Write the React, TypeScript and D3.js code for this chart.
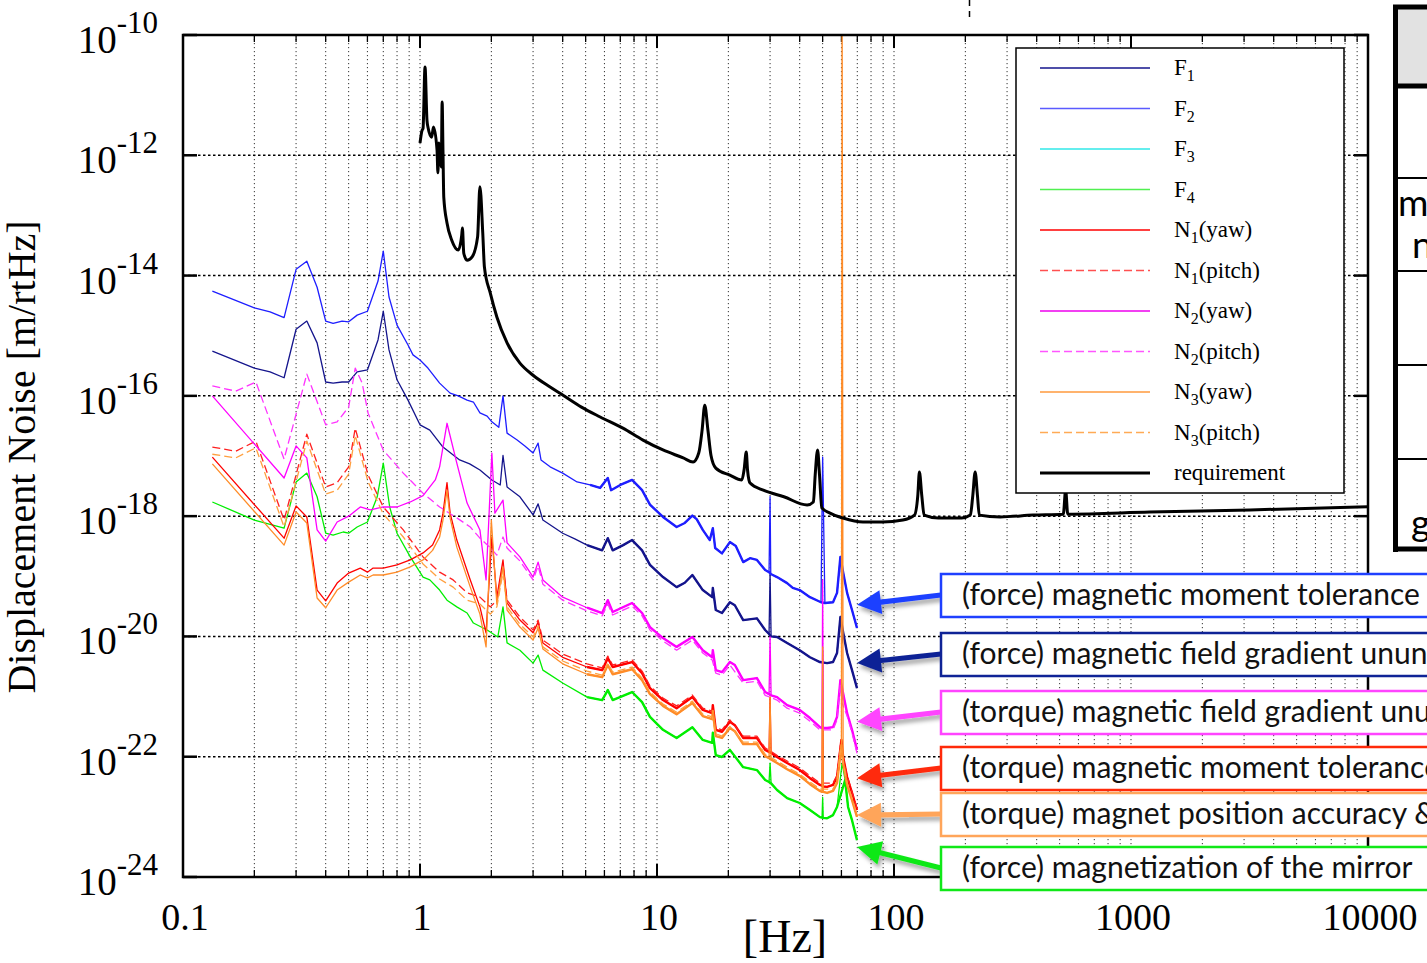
import React from "react";
import * as d3 from "d3";

type Pt = [number, number];

// frequency [Hz], displacement noise [m/rtHz]
const F1: Pt[] = [
  [0.133, 5.55e-16], [0.2, 2.9e-16], [0.233, 2.5e-16], [0.267, 2.0e-16], [0.3, 1.28e-15], [0.333, 1.75e-15],
  [0.368, 7.6e-16], [0.4, 1.7e-16], [0.43, 1.63e-16], [0.469, 1.7e-16], [0.5, 1.7e-16], [0.543, 2.5e-16],
  [0.6, 2.7e-16], [0.665, 8.5e-16], [0.7, 2.55e-15], [0.74, 5.8e-16], [0.8, 1.85e-16], [0.89, 8.5e-17],
  [1.0, 3.3e-17], [1.1, 2.7e-17], [1.25, 1.41e-17], [1.47, 8.6e-18], [1.62, 7.4e-18], [1.79, 5.85e-18],
  [2.01, 4.0e-18], [2.18, 3.3e-18], [2.24, 1.02e-17], [2.33, 3.05e-18], [2.64, 2.1e-18], [3.0, 1.05e-18],
  [3.15, 1.6e-18], [3.3, 8.6e-19], [4.0, 5.2e-19], [4.5, 4.2e-19], [5.07, 3.3e-19], [5.87, 2.7e-19],
  [6.2, 4.3e-19], [6.5, 2.7e-19], [7.2, 3.3e-19], [7.85, 4.0e-19], [8.65, 2.7e-19], [9.34, 1.55e-19],
  [10.6, 9.7e-20], [12.1, 6.6e-20], [13.1, 7.8e-20], [14.1, 1.05e-19], [15.6, 5.9e-20], [17.1, 4.5e-20],
  [17.2, 6.4e-20], [17.7, 2.75e-20], [18.8, 2.45e-20], [20.3, 3.7e-20], [21.3, 3.3e-20], [23.1, 1.87e-20],
  [26.4, 2.0e-20], [28.6, 1.28e-20], [29.7, 1.1e-20], [30.0, 1.13e-19], [30.3, 1.0e-20], [32.1, 9.8e-21],
  [35.4, 7.8e-21], [40.0, 5.9e-21], [44.2, 4.5e-21], [48.7, 3.75e-21], [52.2, 3.6e-21], [55.3, 3.75e-21],
  [57.5, 5.3e-21], [59.4, 2.1e-20], [60.4, 7.8e-21], [61.0, 1.18e-20], [63.4, 5.3e-21], [66.5, 2.75e-21],
  [69.8, 1.38e-21],
];

const F2: Pt[] = [
  [0.133, 5.5e-15], [0.2, 2.9e-15], [0.233, 2.5e-15], [0.267, 2.0e-15], [0.3, 1.27e-14], [0.333, 1.73e-14],
  [0.368, 6.4e-15], [0.4, 1.75e-15], [0.43, 1.6e-15], [0.469, 1.75e-15], [0.5, 1.7e-15], [0.543, 2.2e-15],
  [0.6, 2.55e-15], [0.665, 8.1e-15], [0.7, 2.55e-14], [0.74, 4.4e-15], [0.8, 1.5e-15], [0.89, 7.0e-16],
  [0.934, 4.8e-16], [1.0, 3.95e-16], [1.08, 2.9e-16], [1.21, 1.63e-16], [1.34, 1.11e-16], [1.45, 1.0e-16],
  [1.58, 8.5e-17], [1.68, 7.9e-17], [1.79, 5.2e-17], [1.92, 4.6e-17], [2.01, 3.7e-17], [2.15, 3.0e-17],
  [2.24, 1.0e-16], [2.33, 2.4e-17], [2.57, 1.85e-17], [2.77, 1.47e-17], [3.0, 1.12e-17], [3.15, 1.64e-17],
  [3.24, 8.6e-18], [3.54, 6.6e-18], [4.0, 5.2e-18], [4.6, 3.7e-18], [5.22, 3.3e-18], [5.75, 2.94e-18],
  [6.2, 4.3e-18], [6.4, 2.7e-18], [7.0, 3.3e-18], [7.85, 4.0e-18], [8.65, 2.7e-18], [9.34, 1.55e-18],
  [10.6, 9.7e-19], [12.1, 6.6e-19], [13.1, 7.7e-19], [14.1, 1.02e-18], [14.7, 8.9e-19], [15.6, 5.9e-19],
  [16.7, 4.0e-19], [17.2, 6.3e-19], [17.6, 2.95e-19], [18.8, 2.4e-19], [20.3, 3.7e-19], [21.5, 3.2e-19],
  [23.1, 1.72e-19], [24.7, 2.0e-19], [26.4, 1.87e-19], [28.6, 1.27e-19], [29.7, 1.17e-19], [30.0, 2.1e-18],
  [30.2, 1.09e-19], [32.1, 9.7e-20], [35.4, 7.7e-20], [37.4, 6.4e-20], [40.0, 5.9e-20], [44.2, 4.5e-20],
  [49.2, 3.7e-20], [50.0, 9.6e-18], [51.1, 3.6e-20], [55.3, 3.7e-20], [57.5, 5.3e-20], [59.4, 2.1e-19],
  [60.4, 7.7e-20], [61.0, 1.17e-19], [63.4, 5.3e-20], [66.5, 2.75e-20], [69.8, 1.38e-20],
];

const F4: Pt[] = [
  [0.133, 1.72e-18], [0.2, 8.6e-19], [0.267, 6.3e-19], [0.3, 3.7e-18], [0.333, 5.2e-18], [0.368, 2.1e-18],
  [0.4, 5.2e-19], [0.43, 4.85e-19], [0.474, 5.45e-19], [0.5, 5.2e-19], [0.543, 6.6e-19], [0.6, 8.0e-19],
  [0.66, 2.1e-18], [0.7, 7.6e-18], [0.745, 1.42e-18], [0.8, 5.2e-19], [0.91, 2.1e-19], [1.03, 9.7e-20],
  [1.1, 8.7e-20], [1.21, 5.9e-20], [1.3, 4.0e-20], [1.43, 3.1e-20], [1.58, 2.45e-20], [1.68, 1.67e-20],
  [1.92, 1.28e-20], [2.13, 9.8e-21], [2.24, 3.1e-20], [2.33, 7.8e-21], [2.64, 5.9e-21], [3.0, 3.6e-21],
  [3.15, 4.9e-21], [3.3, 2.75e-21], [4.0, 1.68e-21], [5.07, 9.8e-22], [5.87, 8.75e-22], [6.2, 1.28e-21],
  [6.5, 8.75e-22], [7.85, 1.19e-21], [8.65, 8.1e-22], [9.34, 4.6e-22], [10.6, 2.8e-22], [12.1, 2.05e-22],
  [14.1, 3.1e-22], [15.6, 1.9e-22], [17.1, 1.7e-22], [17.2, 2.5e-22], [17.7, 1.06e-22], [18.8, 9.9e-23],
  [20.3, 1.3e-22], [23.1, 6.7e-23], [26.4, 6.0e-23], [28.6, 4.1e-23], [29.7, 3.8e-23], [30.0, 7.85e-23],
  [30.3, 3.6e-23], [32.1, 2.8e-23], [35.4, 2.05e-23], [40.0, 1.7e-23], [44.2, 1.3e-23], [48.7, 9.9e-24],
  [49.7, 9.7e-24], [50.0, 2.1e-23], [50.3, 9.6e-24], [52.2, 9.5e-24], [55.3, 1.07e-23], [57.5, 1.46e-23],
  [60.4, 7.85e-23], [62.2, 4.1e-23], [64.0, 1.46e-23], [66.5, 8.8e-24], [69.8, 4.1e-24],
];

const N1yaw: Pt[] = [
  [0.133, 9.6e-18], [0.267, 4.3e-19], [0.3, 1.48e-18], [0.333, 9.7e-19], [0.368, 5.9e-20], [0.4, 3.9e-20],
  [0.447, 7.7e-20], [0.5, 1.13e-19], [0.56, 1.37e-19], [0.6, 1.17e-19], [0.634, 1.37e-19], [0.7, 1.37e-19],
  [0.8, 1.55e-19], [0.91, 1.87e-19], [1.03, 2.45e-19], [1.13, 3.3e-19], [1.21, 5.9e-19], [1.25, 1.12e-18],
  [1.3, 3.6e-18], [1.34, 1.12e-18], [1.43, 4.0e-19], [1.63, 8.7e-20], [1.79, 3.1e-20], [1.9, 1.15e-20],
  [2.01, 4.5e-19], [2.11, 4.5e-20], [2.24, 1.87e-19], [2.33, 3.6e-20], [2.64, 1.87e-20], [3.0, 1.15e-20],
  [3.15, 1.73e-20], [3.3, 7.8e-21], [4.0, 4.5e-21], [5.07, 3.1e-21], [5.87, 2.75e-21], [6.2, 4.35e-21],
  [6.5, 3.1e-21], [7.85, 3.75e-21], [8.65, 2.45e-21], [9.34, 1.38e-21], [10.6, 8.75e-22], [12.1, 6.4e-22],
  [14.1, 9.8e-22], [15.6, 6.0e-22], [17.1, 5.3e-22], [17.2, 7.2e-22], [17.7, 2.8e-22], [18.8, 2.6e-22],
  [20.3, 3.8e-22], [21.3, 3.35e-22], [23.1, 2.05e-22], [26.4, 2.05e-22], [28.6, 1.3e-22], [29.7, 1.2e-22],
  [30.0, 9.8e-22], [30.3, 1.15e-22], [32.1, 9.9e-23], [35.4, 7.85e-23], [40.0, 6.0e-23], [44.2, 4.4e-23],
  [48.7, 3.4e-23], [49.7, 3.3e-23], [50.0, 5.9e-21], [50.3, 3.2e-23], [52.2, 3.15e-23], [55.3, 3.4e-23],
  [57.5, 4.6e-23], [60.0, 1.9e-22], [61.0, 9.9e-23], [63.4, 4.6e-23], [66.5, 2.5e-23], [69.8, 1.3e-23],
];

const N1pitch: Pt[] = [
  [0.133, 1.41e-17], [0.167, 1.2e-17], [0.203, 1.77e-17], [0.267, 8.6e-19], [0.333, 2.3e-17], [0.4, 3.05e-18],
  [0.447, 3.6e-18], [0.5, 6.6e-18], [0.533, 2.9e-17], [0.604, 4.8e-18], [0.7, 1.42e-18], [0.85, 5.9e-19],
  [1.03, 2.1e-19], [1.21, 1.17e-19], [1.38, 8.7e-20], [1.58, 5.3e-20], [1.79, 4.5e-20], [1.98, 3.1e-20],
  [2.11, 4.0e-20], [2.24, 1.55e-19], [2.33, 4.0e-20], [2.64, 2.1e-20], [3.0, 1.28e-20], [3.15, 1.87e-20],
  [3.3, 8.7e-21], [4.0, 5.1e-21], [5.07, 3.5e-21], [5.87, 3.0e-21], [6.2, 4.7e-21], [6.5, 3.35e-21],
  [7.85, 4.05e-21], [8.65, 2.65e-21], [9.34, 1.5e-21], [10.6, 9.4e-22], [12.1, 7.0e-22], [14.1, 1.06e-21],
  [15.6, 6.4e-22], [17.1, 5.75e-22], [17.7, 3.0e-22], [18.8, 2.8e-22], [20.3, 4.1e-22], [23.1, 2.2e-22],
  [26.4, 2.2e-22], [28.6, 1.4e-22], [32.1, 1.06e-22], [35.4, 8.5e-23], [40.0, 6.5e-23], [44.2, 4.8e-23],
  [48.7, 3.65e-23], [55.3, 3.65e-23], [57.5, 4.95e-23], [59.4, 1.55e-22], [61.0, 9.5e-23], [63.4, 4.8e-23],
  [66.5, 2.6e-23], [69.8, 1.4e-23],
];

const N2yaw: Pt[] = [
  [0.133, 1.0e-16], [0.267, 4.3e-18], [0.3, 1.47e-17], [0.333, 9.3e-18], [0.368, 5.9e-19], [0.4, 3.85e-19],
  [0.447, 8.0e-19], [0.5, 1.0e-18], [0.56, 1.42e-18], [0.617, 1.27e-18], [0.7, 1.42e-18], [0.8, 1.42e-18],
  [0.91, 1.72e-18], [1.03, 2.2e-18], [1.16, 4.0e-18], [1.21, 6.6e-18], [1.3, 3.5e-17], [1.43, 7.6e-18],
  [1.58, 1.65e-18], [1.79, 5.9e-19], [1.9, 8.7e-20], [2.01, 1.12e-17], [2.07, 1.12e-18], [2.24, 1.85e-18],
  [2.33, 3.6e-19], [2.64, 2.1e-19], [3.0, 9.7e-20], [3.15, 1.72e-19], [3.3, 8.7e-20], [4.0, 4.5e-20],
  [5.07, 3.0e-20], [5.87, 2.45e-20], [6.2, 4.0e-20], [6.5, 2.55e-20], [7.85, 3.6e-20], [8.65, 2.45e-20],
  [9.34, 1.43e-20], [10.6, 9.4e-21], [12.1, 6.7e-21], [14.1, 9.8e-21], [15.6, 5.9e-21], [17.1, 4.5e-21],
  [17.2, 5.9e-21], [17.7, 2.75e-21], [18.8, 2.55e-21], [20.3, 3.75e-21], [21.3, 3.35e-21], [23.1, 1.88e-21],
  [26.4, 2.03e-21], [28.6, 1.19e-21], [29.7, 1.1e-21], [30.0, 9.8e-21], [30.3, 1.05e-21], [32.1, 9.8e-22],
  [35.4, 7.2e-22], [40.0, 6.0e-22], [44.2, 4.4e-22], [48.7, 3.1e-22], [49.7, 3.0e-22], [50.0, 8.7e-20],
  [50.3, 3.0e-22], [52.2, 3.0e-22], [55.3, 3.1e-22], [57.5, 4.6e-22], [59.4, 1.88e-21], [60.4, 8.75e-22],
  [61.0, 1.14e-21], [63.4, 5.3e-22], [66.5, 2.8e-22], [69.8, 1.3e-22],
];

const N2pitch: Pt[] = [
  [0.133, 1.46e-16], [0.167, 1.2e-16], [0.203, 1.7e-16], [0.267, 8.9e-18], [0.333, 2.3e-16], [0.4, 3.3e-17],
  [0.447, 3.7e-17], [0.5, 6.5e-17], [0.533, 2.9e-16], [0.57, 1.63e-16], [0.604, 5.15e-17], [0.7, 1.25e-17],
  [0.85, 5.2e-18], [1.03, 2.4e-18], [1.21, 1.42e-18], [1.41, 9.7e-19], [1.63, 6.6e-19], [1.79, 4.3e-19],
  [1.97, 3.05e-19], [2.11, 2.25e-19], [2.24, 4.5e-19], [2.33, 2.95e-19], [2.64, 1.8e-19], [3.0, 8.7e-20],
  [3.15, 1.48e-19], [3.3, 7.4e-20], [4.0, 4.0e-20], [5.07, 2.65e-20], [5.87, 2.2e-20], [6.2, 3.45e-20],
  [6.5, 2.27e-20], [7.85, 3.2e-20], [8.65, 2.2e-20], [9.34, 1.28e-20], [10.6, 8.4e-21], [12.1, 5.9e-21],
  [14.1, 8.7e-21], [15.6, 5.3e-21], [17.1, 4.05e-21], [17.7, 2.45e-21], [18.8, 2.27e-21], [20.3, 3.35e-21],
  [23.1, 1.68e-21], [26.4, 1.8e-21], [28.6, 1.05e-21], [32.1, 8.75e-22], [35.4, 6.4e-22], [40.0, 5.3e-22],
  [44.2, 3.9e-22], [48.7, 2.8e-22], [55.3, 2.8e-22], [57.5, 4.1e-22], [59.4, 1.6e-21], [60.4, 7.8e-22],
  [63.4, 4.75e-22], [66.5, 2.5e-22], [69.8, 1.14e-22],
];

const N3yaw: Pt[] = [
  [0.133, 7.4e-18], [0.267, 3.3e-19], [0.3, 1.17e-18], [0.333, 7.7e-19], [0.368, 4.35e-20], [0.4, 3.0e-20],
  [0.447, 5.9e-20], [0.5, 8.0e-20], [0.56, 1.05e-19], [0.6, 9.4e-20], [0.634, 1.05e-19], [0.7, 1.05e-19],
  [0.8, 1.17e-19], [0.91, 1.43e-19], [1.03, 1.87e-19], [1.13, 2.7e-19], [1.21, 4.5e-19], [1.25, 8.6e-19],
  [1.3, 2.7e-18], [1.34, 9.3e-19], [1.43, 3.05e-19], [1.63, 6.6e-20], [1.79, 2.35e-20], [1.9, 6.7e-21],
  [2.0, 8.6e-19], [2.11, 3.45e-20], [2.24, 1.43e-19], [2.33, 2.75e-20], [2.64, 1.43e-20], [3.0, 8.7e-21],
  [3.15, 1.38e-20], [3.3, 6.2e-21], [4.0, 3.5e-21], [5.07, 2.35e-21], [5.87, 2.1e-21], [6.2, 3.35e-21],
  [6.5, 2.35e-21], [7.85, 2.85e-21], [8.65, 1.88e-21], [9.34, 1.1e-21], [10.6, 7.0e-22], [12.1, 5.1e-22],
  [14.1, 7.8e-22], [15.6, 4.75e-22], [17.1, 4.2e-22], [17.2, 5.75e-22], [17.7, 2.2e-22], [18.8, 2.05e-22],
  [20.3, 3.0e-22], [21.3, 2.65e-22], [23.1, 1.62e-22], [26.4, 1.62e-22], [28.6, 1.02e-22], [29.7, 9.5e-23],
  [30.0, 9.8e-22], [30.3, 9.0e-23], [32.1, 7.85e-23], [35.4, 6.2e-23], [40.0, 4.8e-23], [44.2, 3.5e-23],
  [48.7, 2.7e-23], [49.7, 2.6e-23], [50.0, 6.7e-21], [50.3, 2.6e-23], [52.2, 2.5e-23], [55.3, 2.7e-23],
  [57.5, 3.65e-23], [60.0, 1.55e-22], [60.4, 1e-9], [61.0, 7.85e-23], [63.4, 3.4e-23], [66.5, 1.9e-23],
  [69.8, 1.0e-23],
];

const N3pitch: Pt[] = [
  [0.133, 1.07e-17], [0.167, 9.3e-18], [0.203, 1.37e-17], [0.267, 6.6e-19], [0.333, 1.77e-17], [0.4, 2.33e-18],
  [0.447, 2.7e-18], [0.5, 5.0e-18], [0.533, 2.2e-17], [0.604, 3.7e-18], [0.7, 1.09e-18], [0.85, 4.5e-19],
  [1.03, 1.6e-19], [1.21, 9.0e-20], [1.38, 6.6e-20], [1.58, 4.0e-20], [1.79, 3.45e-20], [1.98, 2.35e-20],
  [2.11, 3.1e-20], [2.24, 1.17e-19], [2.33, 3.1e-20], [2.64, 1.6e-20], [3.0, 9.8e-21], [3.15, 1.5e-20],
  [3.3, 6.7e-21], [4.0, 3.9e-21], [5.07, 2.65e-21], [5.87, 2.27e-21], [6.2, 3.6e-21], [6.5, 2.55e-21],
  [7.85, 3.1e-21], [8.65, 2.03e-21], [9.34, 1.19e-21], [10.6, 7.5e-22], [12.1, 5.5e-22], [14.1, 8.4e-22],
  [15.6, 5.1e-22], [17.1, 4.6e-22], [17.7, 2.4e-22], [18.8, 2.2e-22], [20.3, 3.2e-22], [23.1, 1.75e-22],
  [26.4, 1.75e-22], [28.6, 1.1e-22], [32.1, 8.5e-23], [35.4, 6.7e-23], [40.0, 5.15e-23], [44.2, 3.8e-23],
  [48.7, 2.9e-23], [55.3, 2.9e-23], [57.5, 3.95e-23], [59.4, 1.3e-22], [61.0, 8.2e-23], [63.4, 3.65e-23],
  [66.5, 2.05e-23], [69.8, 1.08e-23],
];

const requirement: Pt[] = [
  [1.0, 1.6e-12], [1.02, 2.6e-12], [1.03, 2.8e-12], [1.05, 2.94e-11], [1.07, 3.85e-12], [1.08, 2.95e-12],
  [1.12, 2.0e-12], [1.14, 2.95e-12], [1.18, 1.22e-12], [1.19, 5.1e-13], [1.2, 1.6e-12], [1.23, 6.4e-13],
  [1.24, 7.7e-12], [1.25, 1.22e-12], [1.26, 2.0e-13], [1.3, 7.5e-14], [1.36, 3.9e-14], [1.45, 2.65e-14],
  [1.5, 4.7e-14], [1.51, 6.2e-14], [1.53, 2.35e-14], [1.58, 1.8e-14], [1.66, 2.05e-14], [1.75, 4.4e-14],
  [1.79, 3.0e-13], [1.84, 5.1e-14], [1.87, 1.38e-14], [1.98, 5.1e-15], [2.11, 2.05e-15], [2.33, 7.6e-16],
  [2.64, 3.5e-16], [3.0, 2.2e-16], [3.54, 1.4e-16], [4.0, 1.03e-16], [4.8, 6.5e-17], [5.76, 4.45e-17],
  [7.18, 2.9e-17], [8.73, 1.84e-17], [10.6, 1.26e-17], [12.9, 9.3e-18], [14.2, 7.95e-18], [15.0, 1.12e-17],
  [15.5, 2.7e-17], [15.9, 7.0e-17], [16.4, 2.7e-17], [16.9, 1.02e-17], [17.7, 6.3e-18], [20.3, 4.8e-18],
  [22.8, 4.0e-18], [23.3, 5.85e-18], [23.8, 1.16e-17], [24.1, 5.85e-18], [24.7, 3.55e-18], [28.1, 2.7e-18],
  [34.3, 2.1e-18], [43.0, 1.53e-18], [45.7, 1.72e-18], [46.5, 4.8e-18], [47.6, 1.26e-17], [48.5, 4.8e-18],
  [49.6, 1.37e-18], [53.7, 1.12e-18], [60.9, 9.3e-19], [74.0, 8.0e-19], [89.5, 8.0e-19], [109, 8.6e-19],
  [122, 1.04e-18], [126, 2.2e-18], [128, 5.4e-18], [131, 2.2e-18], [134, 1.04e-18], [154, 9.3e-19],
  [193, 9.3e-19], [210, 1.04e-18], [215, 2.2e-18], [220, 5.4e-18], [225, 2.2e-18], [229, 1.04e-18],
  [281, 9.7e-19], [386, 1.04e-18], [518, 1.08e-18], [530, 2.7e-18], [541, 1.08e-18], [1200, 1.17e-18],
  [3180, 1.27e-18], [10000, 1.43e-18],
];

// narrow line-noise spikes drawn thin only
const lineSpikes = [30.0, 50.0, 60.4];

const xTickValues = [0.1, 1, 10, 100, 1000, 10000];
const xTickLabels = ["0.1", "1", "10", "100", "1000", "10000"];
const yExponents = [-10, -12, -14, -16, -18, -20, -22, -24];

const legendNames = ["F", "F", "F", "F", "N", "N", "N", "N", "N", "N", "requirement"];
const legendSubs = ["1", "2", "3", "4", "1", "1", "2", "2", "3", "3", ""];
const legendSuffix = ["", "", "", "", "(yaw)", "(pitch)", "(yaw)", "(pitch)", "(yaw)", "(pitch)", ""];
const legendColors = ["#14148c", "#5a5aff", "#30e8e8", "#50f050", "#ff0000", "#ff5050", "#ee00ee", "#ff55ff", "#ff9a3c", "#ffaa55", "#000000"];
const legendDashed = [false, false, false, false, false, true, false, true, false, true, false];

const annLabels = [
  "(force) magnetic moment tolerance",
  "(force) magnetic field gradient ununiformity",
  "(torque) magnetic field gradient ununiformity",
  "(torque) magnetic moment tolerance",
  "(torque) magnet position accuracy & magnetization",
  "(force) magnetization of the mirror",
];
const annColors = ["#1f40ff", "#0f2396", "#ff44ff", "#ff2a0a", "#ffa55a", "#10e818"];
// arrow tips, in data coordinates
const annTips: Pt[] = [[69.8, 3.35e-20], [69.8, 3.6e-21], [69.8, 3.8e-22], [69.8, 4.4e-23], [69.8, 1.07e-23], [69.8, 3.15e-24]];
const annBoxTop = [574, 633, 691, 747, 793, 847];

const PLOT = { left: 183, right: 1368, top: 35, bottom: 877 };
const serif = '"Liberation Serif", "DejaVu Serif", serif';
const sans = 'Lato, "Open Sans", sans-serif';

function arrowPath(tx: number, ty: number, hx: number, hy: number) {
  const dx = hx - tx, dy = hy - ty;
  const len = Math.hypot(dx, dy);
  const ux = dx / len, uy = dy / len;
  const nx = -uy, ny = ux;
  const sw = 2.6, hw = 12, hl = 24;
  const bx = hx - ux * hl, by = hy - uy * hl;
  const p = [
    [tx + nx * sw, ty + ny * sw],
    [bx + nx * sw, by + ny * sw],
    [bx + nx * hw, by + ny * hw],
    [hx, hy],
    [bx - nx * hw, by - ny * hw],
    [bx - nx * sw, by - ny * sw],
    [tx - nx * sw, ty - ny * sw],
  ];
  return "M" + p.map((q) => q.join(",")).join("L") + "Z";
}

export default function App() {
  const x = d3.scaleLog().domain([0.1, 10000]).range([PLOT.left, PLOT.right]);
  const y = d3.scaleLog().domain([1e-24, 1e-10]).range([PLOT.bottom, PLOT.top]);
  const line = d3.line<Pt>().x((d) => x(d[0])).y((d) => y(d[1]));
  const smooth = d3.line<Pt>().x((d) => x(d[0])).y((d) => y(d[1])).curve(d3.curveMonotoneX);

  const xMinor = d3
    .range(-1, 4)
    .flatMap((e) => d3.range(1, 10).map((m) => m * Math.pow(10, e)))
    .filter((v) => v > 0.1001);
  const isMajor = (v: number) => Math.abs(Math.log10(v) - Math.round(Math.log10(v))) < 1e-6;

  const curves = [
    { data: F1, color: "#14148c", dash: "" },
    { data: F2, color: "#1e1eff", dash: "" },
    { data: F4, color: "#00ee00", dash: "" },
    { data: N1yaw, color: "#ff0000", dash: "" },
    { data: N1pitch, color: "#ff2020", dash: "8,4" },
    { data: N2yaw, color: "#ff00ff", dash: "" },
    { data: N2pitch, color: "#ff33ff", dash: "8,4" },
    { data: N3yaw, color: "#ff8c28", dash: "" },
    { data: N3pitch, color: "#ffa040", dash: "8,4" },
  ];

  return (
    <svg width={1427} height={963} style={{ position: "absolute", left: 0, top: 0, background: "#fff" }}>
      <defs>
        <clipPath id="plot">
          <rect x={PLOT.left} y={PLOT.top} width={PLOT.right - PLOT.left} height={PLOT.bottom - PLOT.top} />
        </clipPath>
        <filter id="shadow" x="-20%" y="-50%" width="150%" height="250%">
          <feDropShadow dx="2" dy="4" stdDeviation="2" floodColor="#000" floodOpacity="0.35" />
        </filter>
      </defs>
      <rect width={1427} height={963} fill="#fff" />

      {/* grid */}
      {xMinor.map((v, i) => (
        <line key={"gx" + i} x1={x(v)} x2={x(v)} y1={PLOT.top} y2={PLOT.bottom} stroke="#000" strokeWidth={1} strokeDasharray="1.2,2.8" opacity={0.8} />
      ))}
      {yExponents.slice(1, -1).map((e) => (
        <line key={"gy" + e} x1={PLOT.left} x2={PLOT.right} y1={y(Math.pow(10, e))} y2={y(Math.pow(10, e))} stroke="#000" strokeWidth={1.5} strokeDasharray="2.5,2.5" />
      ))}

      {/* ticks */}
      {xMinor.map((v, i) => {
        const len = isMajor(v) ? 13 : 7;
        return (
          <g key={"tx" + i}>
            <line x1={x(v)} x2={x(v)} y1={PLOT.bottom} y2={PLOT.bottom - len} stroke="#000" strokeWidth={isMajor(v) ? 2 : 1.3} />
            <line x1={x(v)} x2={x(v)} y1={PLOT.top} y2={PLOT.top + len} stroke="#000" strokeWidth={isMajor(v) ? 2 : 1.3} />
          </g>
        );
      })}
      {yExponents.map((e) => (
        <g key={"ty" + e}>
          <line x1={PLOT.left} x2={PLOT.left + 14} y1={y(Math.pow(10, e))} y2={y(Math.pow(10, e))} stroke="#000" strokeWidth={2.5} />
          <line x1={PLOT.right} x2={PLOT.right - 14} y1={y(Math.pow(10, e))} y2={y(Math.pow(10, e))} stroke="#000" strokeWidth={2.5} />
        </g>
      ))}

      {/* curves: thin overall, heavier where the measured spectra are dense */}
      <g clipPath="url(#plot)" fill="none" strokeLinejoin="round">
        {curves.map((c, i) => (
          <g key={"c" + i}>
            <path d={line(c.data) || ""} stroke={c.color} strokeWidth={1.3} strokeDasharray={c.dash || undefined} />
            {!c.dash && (
              <path
                d={line(c.data.filter((d) => d[0] >= 5 && !lineSpikes.includes(d[0]))) || ""}
                stroke={c.color}
                strokeWidth={2.4}
              />
            )}
          </g>
        ))}
        <path d={smooth(requirement) || ""} stroke="#000" strokeWidth={3} />
      </g>

      {/* frame */}
      <rect x={PLOT.left} y={PLOT.top} width={PLOT.right - PLOT.left} height={PLOT.bottom - PLOT.top} fill="none" stroke="#000" strokeWidth={2.5} />

      {/* tick labels */}
      {xTickValues.map((v, i) => (
        <text key={"lx" + i} x={x(v) + 2} y={930} textAnchor="middle" fontFamily={serif} fontSize={38}>
          {xTickLabels[i]}
        </text>
      ))}
      {yExponents.map((e) => (
        <text key={"ly" + e} x={158} y={y(Math.pow(10, e)) + 18} textAnchor="end" fontFamily={serif} fontSize={39}>
          10
          <tspan dy={-20} fontSize={31}>{String(e)}</tspan>
        </text>
      ))}
      <text x={785} y={952} textAnchor="middle" fontFamily={serif} fontSize={46}>[Hz]</text>
      <text transform="translate(35,457) rotate(-90)" textAnchor="middle" fontFamily={serif} fontSize={40}>
        Displacement Noise [m/rtHz]
      </text>

      {/* legend */}
      <rect x={1016} y={48} width={328} height={445} fill="#fff" stroke="#000" strokeWidth={1.5} />
      {legendNames.map((n, i) => {
        const ly = 68 + i * 40.5;
        return (
          <g key={"lg" + i}>
            <line x1={1040} x2={1150} y1={ly} y2={ly} stroke={legendColors[i]} strokeWidth={i === 10 ? 3 : 1.5} strokeDasharray={legendDashed[i] ? "8,4" : undefined} />
            <text x={1174} y={ly + 7} fontFamily={serif} fontSize={23}>
              {n}
              {legendSubs[i] && <tspan dy={6} fontSize={16}>{legendSubs[i]}</tspan>}
              {legendSuffix[i] && <tspan dy={-6}>{legendSuffix[i]}</tspan>}
            </text>
          </g>
        );
      })}

      {/* annotation arrows and boxes */}
      <g filter="url(#shadow)">
        {annTips.map((t, i) => (
          <path key={"ar" + i} d={arrowPath(941, annBoxTop[i] + 21, x(t[0]), y(t[1]))} fill={annColors[i]} />
        ))}
      </g>
      {annLabels.map((s, i) => (
        <g key={"ab" + i}>
          <rect x={941} y={annBoxTop[i]} width={600} height={43} fill="#fff" stroke={annColors[i]} strokeWidth={2.5} />
          <text x={962} y={annBoxTop[i] + 31} fontFamily={sans} fontSize={30} fill="#111">{s}</text>
        </g>
      ))}

      {/* partial table at top right */}
      <rect x={1396} y={9} width={40} height={76} fill="#e2e2e2" />
      <line x1={1395.5} x2={1395.5} y1={5} y2={552} stroke="#000" strokeWidth={5} />
      {[7, 86, 549].map((ly) => (
        <line key={"tt" + ly} x1={1393} x2={1427} y1={ly} y2={ly} stroke="#000" strokeWidth={5} />
      ))}
      {[178, 271, 365, 459].map((ly) => (
        <line key={"tl" + ly} x1={1393} x2={1427} y1={ly} y2={ly} stroke="#000" strokeWidth={2} />
      ))}
      <text x={1398} y={216} fontFamily={sans} fontSize={37}>m</text>
      <text x={1412} y={258} fontFamily={sans} fontSize={37}>n</text>
      <text x={1411} y={536} fontFamily={sans} fontSize={37}>g</text>

      {/* dashed marker above frame */}
      <line x1={969.5} x2={969.5} y1={0} y2={20} stroke="#000" strokeWidth={1.5} strokeDasharray="6,5" />
    </svg>
  );
}
